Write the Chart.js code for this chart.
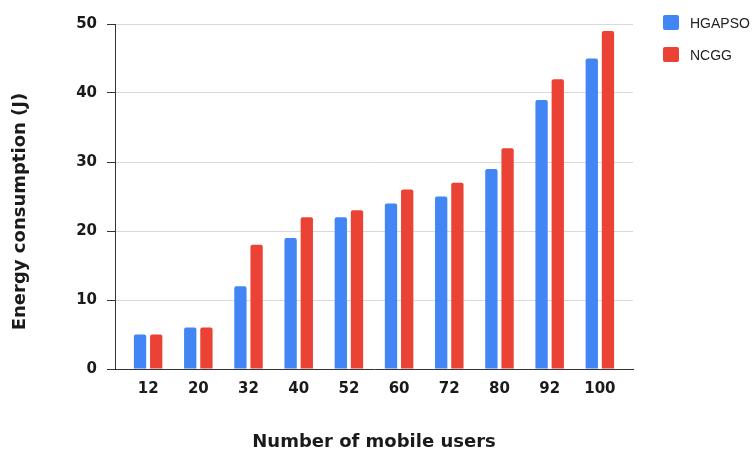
<!DOCTYPE html>
<html>
<head>
<meta charset="utf-8">
<script src="https://cdn.jsdelivr.net/npm/chart.js@4.4.1/dist/chart.umd.min.js"></script>
<style>
  body { margin: 0; background: #fff; }
  .wrap { position: relative; width: 755px; height: 451px; }
  #legend {
    position: absolute; left: 663px; top: 15px;
    font: 14px "Liberation Sans", Arial, sans-serif; color: #222;
  }
  #legend .item { display: flex; align-items: center; height: 15px; margin-bottom: 17px; }
  #legend .box { width: 16px; height: 15px; border-radius: 2px; margin-right: 11px; }
</style>
</head>
<body>
<div class="wrap">
  <canvas id="chart" width="755" height="451"></canvas>
  <div id="legend"></div>
</div>
<script>
const users = ['12', '20', '32', '40', '52', '60', '72', '80', '92', '100'];
const hgapso = [5, 6, 12, 19, 22, 24, 25, 29, 39, 45];
const ncgg = [5, 6, 18, 22, 23, 26, 27, 32, 42, 49];
const seriesNames = ['HGAPSO', 'NCGG'];
const seriesColors = ['#4285f4', '#ea4335'];
const yTitle = 'Energy consumption (J)';

const textColor = '#1a1a1a';
const boldFont = (size) => ({ family: '"DejaVu Sans", sans-serif', size: size, weight: 'bold' });

// bars sit on index positions of a linear axis so the axis can run past the outer groups
const toPoints = (vals) => vals.map((v, i) => ({ x: i, y: v }));

// y axis title, drawn by hand so it can sit a little below the middle of the plot
const yTitlePlugin = {
    id: 'yTitle',
    afterDraw(chart) {
        const { ctx, chartArea } = chart;
        ctx.save();
        ctx.translate(20, (chartArea.top + chartArea.bottom) / 2 + 15);
        ctx.rotate(-Math.PI / 2);
        ctx.font = 'bold 18px "DejaVu Sans", sans-serif';
        ctx.fillStyle = textColor;
        ctx.textAlign = 'center';
        ctx.textBaseline = 'middle';
        ctx.fillText(yTitle, 0, 0);
        ctx.restore();
    }
};

const chart = new Chart(document.getElementById('chart'), {
    type: 'bar',
    data: {
        datasets: [hgapso, ncgg].map((vals, i) => ({
            label: seriesNames[i],
            data: toPoints(vals),
            backgroundColor: seriesColors[i],
            borderRadius: 2,
            categoryPercentage: 0.645,
            barPercentage: 0.76
        }))
    },
    options: {
        responsive: false,
        animation: false,
        layout: { padding: { top: 24, right: 122, bottom: 0, left: 0 } },
        plugins: {
            legend: { display: false },
            tooltip: { enabled: false }
        },
        scales: {
            x: {
                type: 'linear',
                offset: false,
                min: -0.66,
                max: 9.66,
                afterFit: (scale) => { scale.height = 82; },
                grid: { display: false, drawTicks: false },
                border: { color: '#333', width: 1 },
                ticks: {
                    stepSize: 1,
                    includeBounds: false,
                    autoSkip: false,
                    maxRotation: 0,
                    padding: 11,
                    color: textColor,
                    font: boldFont(15),
                    callback: (v) => users[v]
                },
                title: {
                    display: true,
                    text: 'Number of mobile users',
                    color: textColor,
                    font: boldFont(18),
                    padding: { top: 0, bottom: -2 }
                }
            },
            y: {
                min: 0,
                max: 50,
                afterFit: (scale) => { scale.width = 115; },
                grid: { color: '#d9d9d9', tickColor: '#333', tickLength: 8 },
                border: { color: '#333', width: 1 },
                ticks: {
                    stepSize: 10,
                    padding: 10,
                    color: textColor,
                    font: boldFont(15)
                },
                title: { display: false }
            }
        }
    },
    plugins: [yTitlePlugin]
});

// legend built from the datasets
const legendEl = document.getElementById('legend');
chart.data.datasets.forEach(ds => {
    const item = document.createElement('div');
    item.className = 'item';
    item.innerHTML = '<span class="box" style="background:' + ds.backgroundColor + '"></span>' + ds.label;
    legendEl.appendChild(item);
});
</script>
</body>
</html>
